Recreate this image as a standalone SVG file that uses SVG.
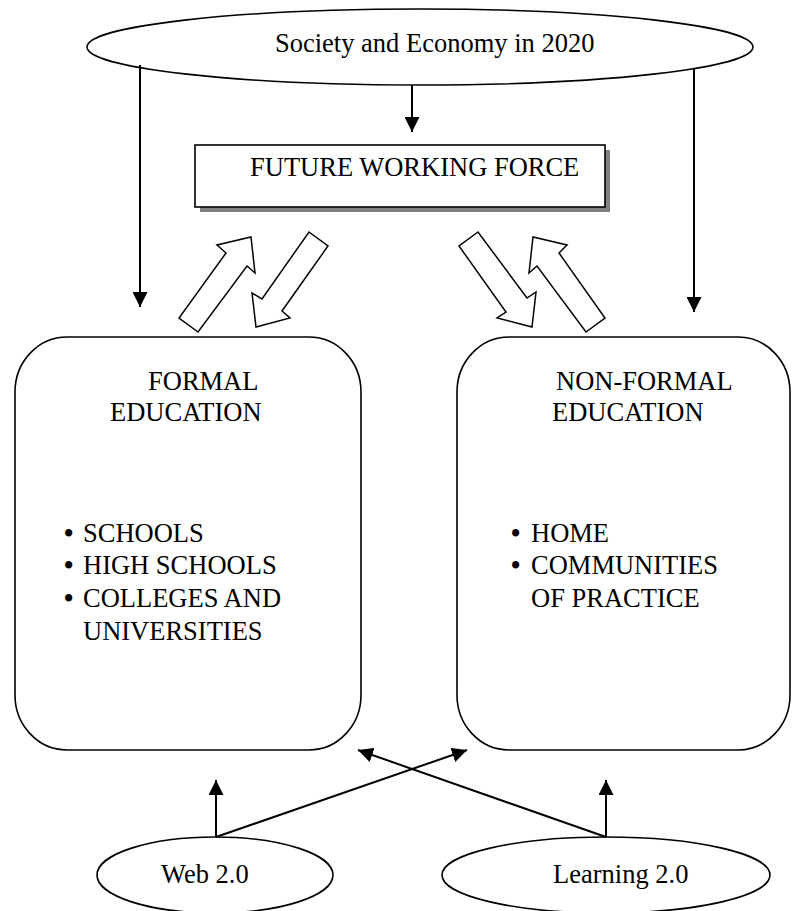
<svg xmlns="http://www.w3.org/2000/svg" width="792" height="911" viewBox="0 0 792 911">
<style>
text{font-family:"Liberation Serif","Times New Roman",serif;font-size:26.5px;fill:#000}
.b{font-weight:bold}
.shape{fill:#fff;stroke:#000;stroke-width:1.6}
.hollow{fill:#fff;stroke:#000;stroke-width:1.5;stroke-linejoin:miter}
.line{stroke:#000;stroke-width:2;fill:none}
</style>
<defs>
<marker id="ah" viewBox="0 0 10 10" refX="10" refY="5" markerWidth="7.5" markerHeight="7.5" markerUnits="strokeWidth" orient="auto">
<path d="M0,0 L10,5 L0,10 Z" fill="#000"/>
</marker>
</defs>
<rect width="792" height="911" fill="#fff"/>
<g id="society">
<ellipse class="shape" cx="420" cy="47" rx="333" ry="38"/>
<text x="275" y="52">Society and Economy in 2020</text>
</g>
<g id="future-working-force">
<rect x="200" y="150" width="410" height="62" fill="#808080"/>
<rect class="shape" x="195" y="145" width="410" height="62"/>
<text x="250" y="176">FUTURE WORKING FORCE</text>
</g>
<g id="formal-education">
<rect class="shape" x="15" y="337" width="346" height="413" rx="52" ry="55"/>
<text x="148" y="390">FORMAL</text>
<text x="110" y="421">EDUCATION</text>
<text x="64" y="542"><tspan class="b">•</tspan><tspan x="83">SCHOOLS</tspan></text>
<text x="64" y="574"><tspan class="b">•</tspan><tspan x="83">HIGH SCHOOLS</tspan></text>
<text x="64" y="607"><tspan class="b">•</tspan><tspan x="83">COLLEGES AND</tspan></text>
<text x="83" y="640">UNIVERSITIES</text>
</g>
<g id="non-formal-education">
<rect class="shape" x="457" y="337" width="333" height="413" rx="52" ry="55"/>
<text x="556" y="390">NON-FORMAL</text>
<text x="552" y="421">EDUCATION</text>
<text x="511" y="542"><tspan class="b">•</tspan><tspan x="531">HOME</tspan></text>
<text x="511" y="574"><tspan class="b">•</tspan><tspan x="531">COMMUNITIES</tspan></text>
<text x="531" y="607">OF PRACTICE</text>
</g>
<g id="web20">
<ellipse class="shape" cx="215" cy="875" rx="118" ry="38"/>
<text x="161" y="883">Web 2.0</text>
</g>
<g id="learning20">
<ellipse class="shape" cx="606" cy="875" rx="164" ry="38"/>
<text x="553" y="883">Learning 2.0</text>
</g>
<g id="connectors">
<line class="line" x1="140" y1="65" x2="140" y2="307" marker-end="url(#ah)"/>
<line class="line" x1="694" y1="68" x2="694" y2="312" marker-end="url(#ah)"/>
<line class="line" x1="412" y1="85" x2="412" y2="132" marker-end="url(#ah)"/>
<line class="line" x1="216" y1="837" x2="216" y2="780" marker-end="url(#ah)"/>
<line class="line" x1="606" y1="837" x2="606" y2="780" marker-end="url(#ah)"/>
<line class="line" x1="216" y1="837" x2="467" y2="750" marker-end="url(#ah)"/>
<line class="line" x1="606" y1="837" x2="358" y2="750" marker-end="url(#ah)"/>
<polygon class="hollow" points="198,332 179,318 226,253 217,245 251,237 255,273 247,266"/>
<polygon class="hollow" points="309,232 328,246 282,311 290,318 256,327 252,293 262,299"/>
<polygon class="hollow" points="478,232 459,246 506,312 497,318 532,327 536,292 527,298"/>
<polygon class="hollow" points="586,332 605,318 559,253 567,245 533,237 529,273 537,266"/>
</g>
</svg>
